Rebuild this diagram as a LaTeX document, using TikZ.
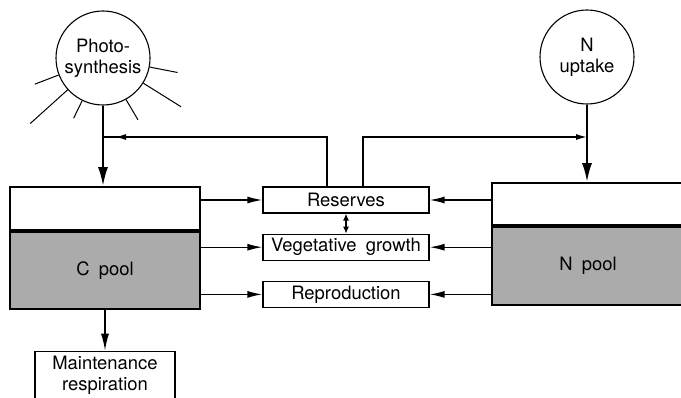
\documentclass[tikz,border=0pt]{standalone}
\usepackage{fontspec}
\setmainfont{TeX Gyre Heros}
\usetikzlibrary{positioning, arrows.meta, calc, decorations.markings}
\definecolor{poolGrey}{HTML}{ABABAB}

\begin{document}
\begin{tikzpicture}[x=1bp, y=1bp, font=\fontsize{18.5}{21}\selectfont, node distance=20bp,
    source/.style={draw, circle, line width=1.1bp, minimum size=94bp, inner sep=0pt, align=center},
    poolhead/.style={draw, line width=1.8bp, fill=white, inner sep=0pt},
    poolbody/.style={draw, line width=1.8bp, fill=poolGrey, inner sep=0pt},
    sinkbox/.style={draw, line width=1.2bp, fill=white, minimum width=166bp, minimum height=26bp, inner sep=0pt},
    flow/.style={line width=1.4bp, -{Latex[length=15bp, width=7bp]}},
    bigflow/.style={line width=2.3bp, -{Latex[length=19bp, width=10bp]}},
    midflow/.style={line width=1.4bp, postaction={decorate},
      decoration={markings, mark=at position -12bp with {\arrow{Latex[length=11bp, width=6bp]}}}}]
  \useasboundingbox (0,0) rectangle (681,397);

  % sources
  \node[source] (photo) at (103,339) {Photo-\\synthesis};
  \node[source] (nup) at (587,340) {N\\uptake};
  \foreach \a/\r in {201/73, 222/98, 244/67, 299.5/71, 328/92, 349/76}
    \draw[line width=1bp] (photo.\a) -- ($(photo.center)+(\a:\r)$);

  % pools
  \node[poolhead, minimum width=190bp, minimum height=43bp] (ctop) at (105,188.5) {};
  \node[poolbody, minimum width=190bp, minimum height=77bp, below=0pt of ctop] (cpool) {C\enspace pool};
  \node[poolhead, minimum width=192bp, minimum height=42bp] (ntop) at (588,193) {};
  \node[poolbody, minimum width=192bp, minimum height=78bp, below=0pt of ntop] (npool) {N\enspace pool};

  % sinks
  \node[sinkbox] (res) at (346,197) {Reserves};
  \node[sinkbox, below=of res] (veg) {Vegetative\enspace growth};
  \node[sinkbox, below=of veg] (rep) {Reproduction};
  \node[draw, line width=1.2bp, minimum width=140bp, minimum height=48bp, inner sep=0pt,
        align=center, below=41bp of cpool] (maint) {Maintenance\\respiration};

  % inputs
  \draw[bigflow] (photo.south) -- (photo.south |- ctop.north);
  \draw[bigflow] (nup.south) -- (nup.south |- ntop.north);

  % carbon and nitrogen to the sinks
  \draw[flow] (ctop.east |- res) -- (res.west);
  \draw[flow] (cpool.east |- veg) -- (veg.west);
  \draw[flow] (cpool.east |- rep) -- (rep.west);
  \draw[flow] (ntop.west |- res) -- (res.east);
  \draw[flow] (npool.west |- veg) -- (veg.east);
  \draw[flow] (npool.west |- rep) -- (rep.east);
  \draw[line width=1.3bp, {Latex[length=7bp, width=6bp]}-{Latex[length=7bp, width=6bp]}] (res.south) -- (veg.north);
  \draw[line width=1.5bp, -{Latex[length=17bp, width=8bp]}] (maint.north |- cpool.south) -- (maint.north);

  % reserves back to the inputs
  \coordinate (jl) at (photo.south |- 0,260);
  \coordinate (jr) at (nup.south |- 0,260);
  \draw[midflow] ([xshift=-19bp]res.north) |- (jl);
  \draw[line width=1.4bp, -{Latex[length=11bp, width=6bp]}] ([xshift=17bp]res.north) |- (jr);
\end{tikzpicture}
\end{document}
